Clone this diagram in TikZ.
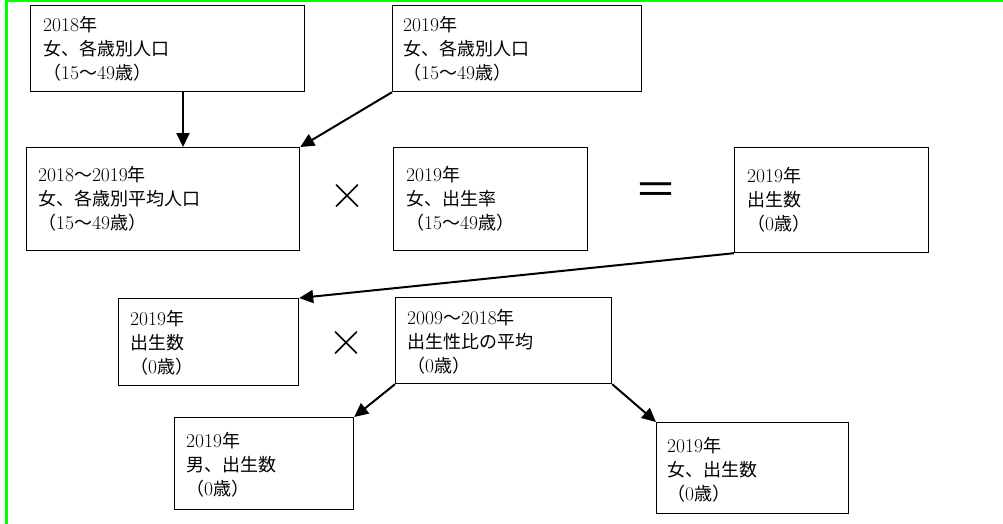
\documentclass[tikz,border=0pt]{standalone}
\usepackage{fontspec}
\newfontfamily\cjk{Noto Sans CJK JP}
\usetikzlibrary{arrows.meta}
\definecolor{framegreen}{RGB}{0,255,0}
\newcommand\J[1]{{\cjk\fontsize{18}{24}\selectfont #1}}
\tikzset{
  box/.style={draw=black, line width=1.2pt, anchor=north west, inner sep=0pt},
  txt/.style={anchor=base west, inner sep=0pt, font=\fontsize{19.5}{24}\selectfont},
  arr/.style={line width=2pt, -{Triangle[length=14pt,width=13pt]}},
  opsym/.style={inner sep=0pt},
}
% name, x, y (first baseline), three lines
\newcommand\tribox[6]{%
  \node[txt] (#1-1) at (#2,#3) {#4};
  \node[txt] (#1-2) at (#2,#3+24) {#5};
  \node[txt] (#1-3) at (#2,#3+48) {#6};
}
\begin{document}
\begin{tikzpicture}[x=1pt,y=-1pt]
\useasboundingbox (0,0) rectangle (1003,524);
% frame
\draw[framegreen, line width=2.6pt] (6.5,530) -- (6.5,1) -- (1010,1);
% boxes
\node[box, minimum width=274pt, minimum height=86pt]  (A) at (30,5)   {};
\node[box, minimum width=249pt, minimum height=86pt]  (B) at (392,5)  {};
\node[box, minimum width=273pt, minimum height=103pt] (C) at (26,147) {};
\node[box, minimum width=194pt, minimum height=103pt] (D) at (393,147) {};
\node[box, minimum width=194pt, minimum height=105pt] (E) at (734,147) {};
\node[box, minimum width=180pt, minimum height=87pt]  (F) at (118,298) {};
\node[box, minimum width=216pt, minimum height=86pt]  (G) at (395,297) {};
\node[box, minimum width=179pt, minimum height=92pt]  (H) at (174,417) {};
\node[box, minimum width=192pt, minimum height=91pt]  (I) at (656,422) {};
% texts
\tribox{At}{43}{31.5}{2018\J{年}}{\J{女、各歳別人口}}{\J{（}15\J{～}49\J{歳）}}
\tribox{Bt}{403}{31.5}{2019\J{年}}{\J{女、各歳別人口}}{\J{（}15\J{～}49\J{歳）}}
\tribox{Ct}{38}{181}{2018\J{～}2019\J{年}}{\J{女、各歳別平均人口}}{\J{（}15\J{～}49\J{歳）}}
\tribox{Dt}{406}{181}{2019\J{年}}{\J{女、出生率}}{\J{（}15\J{～}49\J{歳）}}
\tribox{Et}{747}{182}{2019\J{年}}{\J{出生数}}{\J{（}0\J{歳）}}
\tribox{Ft}{130}{325}{2019\J{年}}{\J{出生数}}{\J{（}0\J{歳）}}
\tribox{Gt}{407}{324}{2009\J{～}2018\J{年}}{\J{出生性比の平均}}{\J{（}0\J{歳）}}
\tribox{Ht}{186}{447}{2019\J{年}}{\J{男、出生数}}{\J{（}0\J{歳）}}
\tribox{It}{667}{452}{2019\J{年}}{\J{女、出生数}}{\J{（}0\J{歳）}}
% operators
\node[opsym, font=\fontsize{50}{50}\selectfont] (x1) at (347,196) {×};
\node[opsym, font=\fontsize{50}{50}\selectfont] (x2) at (346,343) {×};
\node[opsym] (eq) at (656,194.5) {\cjk\fontsize{43}{43}\selectfont ＝};
% connectors
\draw[arr] ([xshift=153pt]A.south west) -- ([xshift=153pt]A.south west |- C.north);
\draw[arr] (B.south west) -- (C.north east);
\draw[arr] (E.south west) -- (F.north east);
\draw[arr] (G.south west) -- (H.north east);
\draw[arr] (G.south east) -- (I.north west);
\end{tikzpicture}
\end{document}
